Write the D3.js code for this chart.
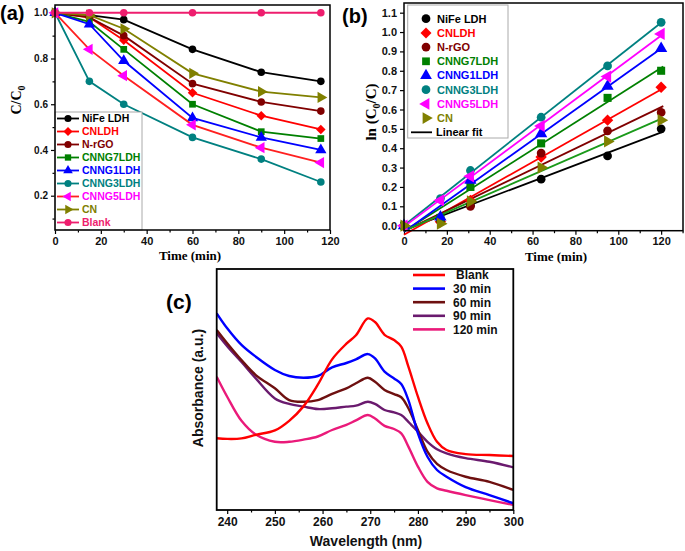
<!DOCTYPE html>
<html>
<head>
<meta charset="utf-8">
<script src="https://cdn.jsdelivr.net/npm/d3@7"></script>
<style>
  body { margin: 0; background: #fff; }
  svg text { font-family: "Liberation Sans", Arial, sans-serif; font-weight: bold; }
  .serif { font-family: "Liberation Serif", "Times New Roman", serif !important; }
</style>
</head>
<body>
<svg id="fig" width="685" height="551"></svg>
<script>
// ---------- data ----------
const samples = ["NiFe LDH", "CNLDH", "N-rGO", "CNNG7LDH", "CNNG1LDH", "CNNG3LDH", "CNNG5LDH", "CN", "Blank"];

// (a) C/C0 vs time
const timeA = [0, 15, 30, 60, 90, 116];
const nifeA  = [1.0, 0.99, 0.97, 0.84, 0.74, 0.70];
const cnldhA = [1.0, 0.98, 0.88, 0.65, 0.55, 0.49];
const nrgoA  = [1.0, 0.98, 0.90, 0.69, 0.61, 0.57];
const cnng7A = [1.0, 0.96, 0.84, 0.60, 0.48, 0.45];
const cnng1A = [1.0, 0.95, 0.79, 0.54, 0.455, 0.40];
const cnng3A = [1.0, 0.70, 0.60, 0.455, 0.36, 0.26];
const cnng5A = [1.0, 0.84, 0.725, 0.51, 0.41, 0.345];
const cnA    = [1.0, 0.99, 0.93, 0.735, 0.655, 0.63];
const blankA = [1.0, 1.0, 1.0, 1.0, 1.0, 1.0];

// (b) ln(C0/C) vs time
const timeB = [0, 17, 31, 64, 95, 120];
const nifeB  = [0, 0.03, 0.105, 0.24, 0.36, 0.50];
const cnldhB = [0, 0.02, 0.13, 0.355, 0.545, 0.715];
const nrgoB  = [0, 0.025, 0.10, 0.375, 0.49, 0.585];
const cnng7B = [0, 0.04, 0.20, 0.425, 0.66, 0.80];
const cnng1B = [0, 0.045, 0.235, 0.475, 0.72, 0.915];
const cnng3B = [0, 0.14, 0.285, 0.56, 0.825, 1.05];
const cnng5B = [0, 0.13, 0.255, 0.515, 0.77, 0.99];
const cnB    = [0, 0.01, 0.125, 0.30, 0.435, 0.545];

// (c) absorbance spectra (arbitrary units)
const spectraLabels = ["Blank", "30 min", "60 min", "90 min", "120 min"];
const wavelength = [237.8, 240, 243, 246, 250, 253, 256, 259, 262, 265, 267, 269.5, 271, 273, 275, 276.5, 278, 280, 282, 284, 286, 290, 295, 300];
const absBlank = [0.298, 0.295, 0.297, 0.312, 0.33, 0.37, 0.43, 0.52, 0.625, 0.69, 0.725, 0.795, 0.78, 0.727, 0.705, 0.678, 0.595, 0.47, 0.36, 0.283, 0.249, 0.232, 0.228, 0.224];
const abs30    = [0.816, 0.754, 0.685, 0.636, 0.581, 0.556, 0.549, 0.556, 0.592, 0.61, 0.625, 0.647, 0.629, 0.574, 0.546, 0.523, 0.456, 0.318, 0.221, 0.166, 0.138, 0.095, 0.062, 0.028];
const abs60    = [0.747, 0.692, 0.622, 0.560, 0.505, 0.456, 0.449, 0.456, 0.482, 0.505, 0.526, 0.549, 0.532, 0.498, 0.481, 0.468, 0.422, 0.332, 0.242, 0.191, 0.166, 0.138, 0.117, 0.083];
const abs90    = [0.734, 0.68, 0.614, 0.546, 0.463, 0.44, 0.429, 0.419, 0.422, 0.429, 0.433, 0.449, 0.44, 0.415, 0.405, 0.394, 0.366, 0.325, 0.283, 0.252, 0.235, 0.215, 0.20, 0.177];
const abs120   = [0.553, 0.47, 0.37, 0.313, 0.283, 0.283, 0.292, 0.305, 0.332, 0.353, 0.372, 0.394, 0.38, 0.349, 0.336, 0.318, 0.263, 0.18, 0.117, 0.09, 0.08, 0.062, 0.041, 0.021];

// ---------- styles ----------
const markColor = ["#000000", "#ff0000", "#800000", "#008000", "#0000ff", "#008080", "#ff00ff", "#808000", "#ee1e6e"];
const lineColorA = ["#000000", "#ff0000", "#800000", "#008000", "#0000ff", "#008080", "#ff2020", "#808000", "#ee1e6e"];
const fitColorB = ["#000000", "#ff0000", "#800000", "#008000", "#0000ff", "#008080", "#ff00ff", "#1a9a1a"];
const shapes = ["circle", "diamond", "circle", "square", "up", "circle", "left", "right", "circle"];
const specColor = ["#ff0000", "#0000ff", "#6e1010", "#6a1a6e", "#ea1a7a"];

const svg = d3.select("#fig");

function symbolPath(shape, size) {
  const t = { circle: d3.symbolCircle, diamond: d3.symbolSquare, square: d3.symbolSquare,
              up: d3.symbolTriangle, left: d3.symbolTriangle, right: d3.symbolTriangle }[shape];
  return d3.symbol().type(t).size(size)();
}
function symbolRot(shape) {
  return { diamond: 45, left: -90, right: 90 }[shape] || 0;
}
function drawMarker(g, shape, cx, cy, size, color) {
  g.append("path")
    .attr("d", symbolPath(shape, size))
    .attr("transform", `translate(${cx},${cy}) rotate(${symbolRot(shape)})`)
    .attr("fill", color);
}

function axes(g, x, y, bottom, left, o) {
  const xa = g.append("g").attr("transform", `translate(0,${bottom})`);
  xa.call(d3.axisBottom(x).tickValues(o.xMajor).tickSize(4).tickSizeOuter(0).tickFormat(o.xFmt));
  xa.selectAll("text").attr("font-size", o.xFont).attr("fill", "#111");
  xa.select(".domain").remove();
  if (o.xMinor) {
    const xm = g.append("g").attr("transform", `translate(0,${bottom})`);
    xm.call(d3.axisBottom(x).tickValues(o.xMinor).tickSize(2.5).tickSizeOuter(0).tickFormat(""));
    xm.select(".domain").remove();
  }
  if (o.yMajor) {
    const ya = g.append("g").attr("transform", `translate(${left},0)`);
    ya.call(d3.axisLeft(y).tickValues(o.yMajor).tickSize(4).tickSizeOuter(0).tickFormat(o.yFmt));
    ya.selectAll("text").attr("font-size", o.yFont).attr("fill", "#111");
    ya.select(".domain").remove();
  }
  if (o.yMinor) {
    const ym = g.append("g").attr("transform", `translate(${left},0)`);
    ym.call(d3.axisLeft(y).tickValues(o.yMinor).tickSize(2.5).tickSizeOuter(0).tickFormat(""));
    ym.select(".domain").remove();
  }
  g.selectAll(".tick line").attr("stroke", "#000").attr("stroke-width", 1.2);
}

// ---------- panel (a) ----------
{
  const L = 55, R = 330, T = 5, B = 230;
  const x = d3.scaleLinear().domain([0, 120]).range([L, R]);
  const y = d3.scaleLinear().domain([0.05, 1.034]).range([B, T]);
  const g = svg.append("g");
  const seriesA = [nifeA, cnldhA, nrgoA, cnng7A, cnng1A, cnng3A, cnng5A, cnA, blankA];

  axes(g, x, y, B, L, {
    xMajor: d3.range(0, 121, 20), xMinor: d3.range(10, 120, 20), xFmt: d3.format("d"), xFont: 11,
    yMajor: [0.2, 0.4, 0.6, 0.8, 1.0], yMinor: [0.1, 0.3, 0.5, 0.7, 0.9], yFmt: d3.format(".1f"), yFont: 10
  });

  const line = d3.line().x((d, i) => x(timeA[i])).y(d => y(d));
  seriesA.forEach((s, k) => {
    g.append("path").attr("d", line(s)).attr("fill", "none")
      .attr("stroke", lineColorA[k]).attr("stroke-width", 1.8);
    s.forEach((v, i) => drawMarker(g, shapes[k], x(timeA[i]), y(v), shapes[k] === "up" || shapes[k] === "left" || shapes[k] === "right" ? 55 : 45, markColor[k]));
  });

  // legend
  const lg = g.append("g");
  lg.append("rect").attr("x", L).attr("y", 112).attr("width", 142 - L).attr("height", B - 112)
    .attr("fill", "#fff").attr("stroke", "#aaa").attr("stroke-width", 1);
  samples.forEach((name, k) => {
    const yy = 118.5 + k * 13;
    lg.append("line").attr("x1", 57).attr("x2", 79).attr("y1", yy).attr("y2", yy)
      .attr("stroke", lineColorA[k]).attr("stroke-width", 1.8);
    drawMarker(lg, shapes[k], 68, yy, 40, markColor[k]);
    lg.append("text").attr("x", 82).attr("y", yy).attr("dy", "0.36em")
      .attr("font-size", 10.5).attr("fill", markColor[k]).text(name);
  });

  g.append("rect").attr("x", L).attr("y", T).attr("width", R - L).attr("height", B - T)
    .attr("fill", "none").attr("stroke", "#000").attr("stroke-width", 1.5);

  g.append("text").attr("class", "serif").attr("x", 190).attr("y", 260).attr("text-anchor", "middle")
    .attr("font-size", 13).text("Time (min)");
  const yl = g.append("text").attr("class", "serif").attr("transform", "translate(21,100) rotate(-90)")
    .attr("text-anchor", "middle").attr("font-size", 14);
  yl.append("tspan").text("C/C");
  yl.append("tspan").attr("font-size", 10).attr("dy", 4).text("0");

  g.append("text").attr("x", 0).attr("y", 20).attr("font-size", 20).text("(a)");
}

// ---------- panel (b) ----------
{
  const L = 404, R = 683, T = 3, B = 230.7;
  const x = d3.scaleLinear().domain([0, 130.2]).range([L, R]);
  const y = d3.scaleLinear().domain([-0.026, 1.15]).range([B, T]);
  const g = svg.append("g");
  const seriesB = [nifeB, cnldhB, nrgoB, cnng7B, cnng1B, cnng3B, cnng5B, cnB];

  axes(g, x, y, B, L, {
    xMajor: d3.range(0, 121, 20), xMinor: d3.range(10, 131, 20), xFmt: d3.format("d"), xFont: 11,
    yMajor: d3.range(0, 12).map(i => i / 10), yFmt: d3.format(".1f"), yFont: 11
  });

  // least-squares linear fits
  seriesB.forEach((s, k) => {
    const n = s.length;
    const mx = d3.mean(timeB), my = d3.mean(s);
    let sxy = 0, sxx = 0;
    for (let i = 0; i < n; i++) { sxy += (timeB[i] - mx) * (s[i] - my); sxx += (timeB[i] - mx) ** 2; }
    const m = sxy / sxx, c = my - m * mx;
    g.append("line").attr("x1", x(0)).attr("y1", y(c)).attr("x2", x(121)).attr("y2", y(c + m * 121))
      .attr("stroke", fitColorB[k]).attr("stroke-width", 1.8);
  });
  seriesB.forEach((s, k) => {
    s.forEach((v, i) => drawMarker(g, shapes[k], x(timeB[i]), y(v), shapes[k] === "circle" ? 60 : 65, markColor[k]));
  });

  // legend
  const lg = g.append("g");
  lg.append("rect").attr("x", 407.7).attr("y", 5).attr("width", 100.3).attr("height", 133)
    .attr("fill", "#fff").attr("stroke", "#aaa").attr("stroke-width", 1);
  samples.slice(0, 8).forEach((name, k) => {
    const yy = 18.7 + k * 14.2;
    drawMarker(lg, shapes[k], 426, yy, 60, markColor[k]);
    lg.append("text").attr("x", 437).attr("y", yy).attr("dy", "0.36em")
      .attr("font-size", 11).attr("fill", markColor[k]).text(name);
  });
  const fy = 18.7 + 8 * 14.2;
  lg.append("line").attr("x1", 411).attr("x2", 432).attr("y1", fy).attr("y2", fy)
    .attr("stroke", "#000").attr("stroke-width", 1.8);
  lg.append("text").attr("x", 436).attr("y", fy).attr("dy", "0.36em")
    .attr("font-size", 11).attr("fill", "#000").text("Linear fit");

  g.append("rect").attr("x", L).attr("y", T).attr("width", R - L).attr("height", B - T)
    .attr("fill", "none").attr("stroke", "#000").attr("stroke-width", 1.5);

  g.append("text").attr("class", "serif").attr("x", 556).attr("y", 261).attr("text-anchor", "middle")
    .attr("font-size", 13).text("Time (min)");
  const yl = g.append("text").attr("class", "serif").attr("transform", "translate(376,112) rotate(-90)")
    .attr("text-anchor", "middle").attr("font-size", 15);
  yl.append("tspan").text("ln (C");
  yl.append("tspan").attr("font-size", 10).attr("dy", 4).text("0");
  yl.append("tspan").attr("dy", -4).text("/C)");

  g.append("text").attr("x", 342).attr("y", 23).attr("font-size", 20).text("(b)");
}

// ---------- panel (c) ----------
{
  const L = 216.7, R = 513.3, T = 269, B = 510;
  const x = d3.scaleLinear().domain([237.8, 300]).range([L, R]);
  const y = d3.scaleLinear().domain([0, 1]).range([B, T]);
  const g = svg.append("g");
  const spectra = [absBlank, abs30, abs60, abs90, abs120];

  axes(g, x, y, B, L, {
    xMajor: d3.range(240, 301, 10), xMinor: d3.range(245, 300, 10), xFmt: d3.format("d"), xFont: 12
  });

  g.append("defs").append("clipPath").attr("id", "clipC")
    .append("rect").attr("x", L).attr("y", T).attr("width", R - L).attr("height", B - T);
  const line = d3.line().x((d, i) => x(wavelength[i])).y(d => y(d)).curve(d3.curveCatmullRom.alpha(0.5));
  [4, 3, 2, 1, 0].forEach(k => {
    g.append("path").attr("d", line(spectra[k])).attr("fill", "none").attr("clip-path", "url(#clipC)")
      .attr("stroke", specColor[k]).attr("stroke-width", 2.4).attr("stroke-linejoin", "round");
  });

  spectraLabels.forEach((name, k) => {
    const yy = 275 + k * 13.6;
    g.append("line").attr("x1", 413).attr("x2", 445).attr("y1", yy).attr("y2", yy)
      .attr("stroke", specColor[k]).attr("stroke-width", 2.6);
    g.append("text").attr("x", name === "Blank" ? 456 : 453).attr("y", yy).attr("dy", "0.36em")
      .attr("font-size", 12).attr("fill", "#111").text(name);
  });

  g.append("rect").attr("x", L).attr("y", T).attr("width", R - L).attr("height", B - T)
    .attr("fill", "none").attr("stroke", "#000").attr("stroke-width", 1.8);

  g.append("text").attr("x", 366).attr("y", 546).attr("text-anchor", "middle")
    .attr("font-size", 14).attr("fill", "#111").text("Wavelength (nm)");
  g.append("text").attr("transform", "translate(203,388) rotate(-90)").attr("text-anchor", "middle")
    .attr("font-size", 14).attr("fill", "#111").text("Absorbance (a.u.)");

  g.append("text").attr("x", 166).attr("y", 309).attr("font-size", 21).text("(c)");
}
</script>
</body>
</html>
